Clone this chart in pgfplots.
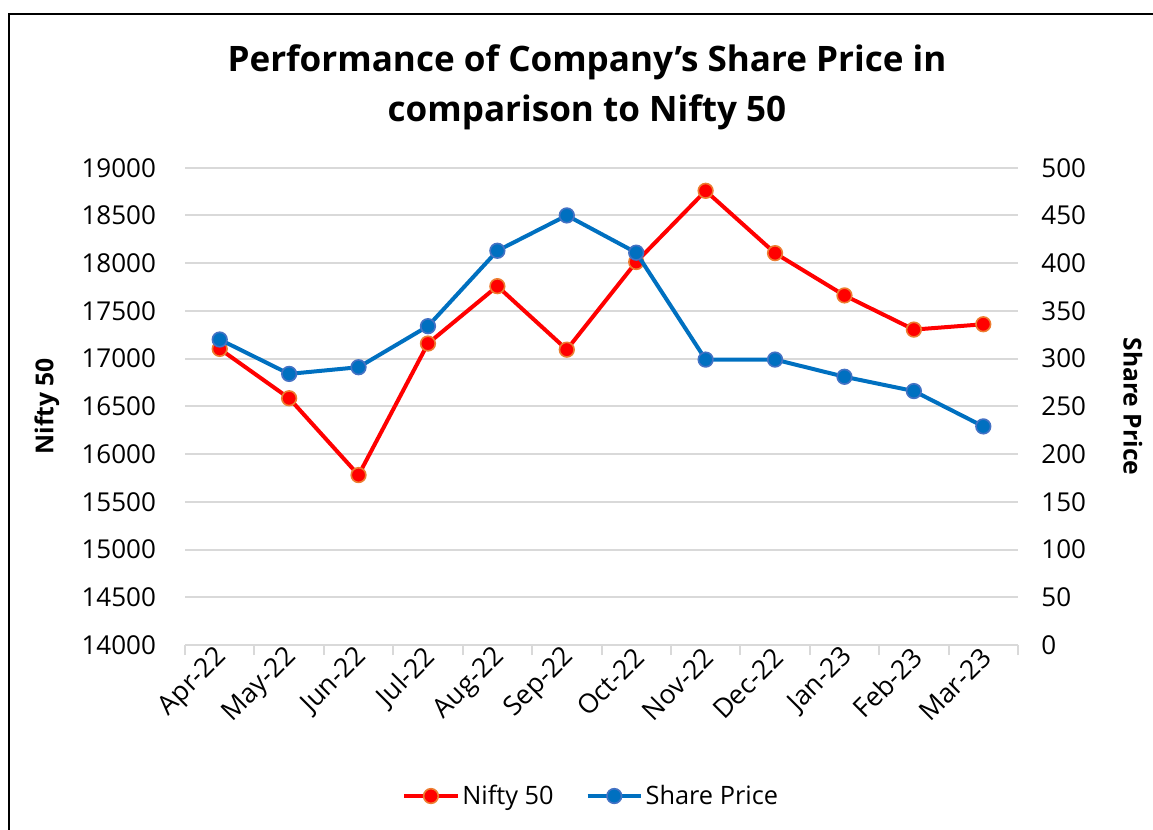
\documentclass[border=0pt]{standalone}
\usepackage{fontspec}
\setmainfont{Open Sans}
\usepackage{pgfplots}
\pgfplotsset{compat=1.18}
\definecolor{niftyred}{HTML}{FF0000}
\definecolor{niftyedge}{HTML}{ED7D31}
\definecolor{shareblue}{HTML}{0070C0}
\definecolor{shareedge}{HTML}{4472C4}
\definecolor{gridgray}{HTML}{D9D9D9}
\pgfplotstableread{
x nifty share
0 17102 320
1 16585 284
2 15780 291
3 17158 334
4 17759 413
5 17094 450
6 18012 411
7 18758 299
8 18105 299
9 17662 281
10 17304 266
11 17360 229
}\datatable
\begin{document}
\begin{tikzpicture}
\useasboundingbox (0,0) rectangle (1153*0.75pt,-830*0.75pt);
\draw[line width=1.6pt,black] (9*0.75pt,-835*0.75pt) -- (9*0.75pt,-14*0.75pt) -- (1160*0.75pt,-14*0.75pt);
\node[font=\fontsize{26.3}{37.5}\selectfont\bfseries,align=center] at (587*0.75pt,-87*0.75pt) {Performance of Company’s Share Price in\\comparison to Nifty 50};
\pgfplotsset{
  common/.style={
    scale only axis,
    width=833*0.75pt,
    height=477.3*0.75pt,
    at={(185*0.75pt,-645*0.75pt)},
    anchor=south west,
    xmin=-0.5, xmax=11.5,
    tick label style={font=\fontsize{19.5}{23}\selectfont},
    scaled y ticks=false,
    /pgf/number format/assume math mode=true,
    /pgf/number format/1000 sep={},
    /pgf/number format/fixed,
    ylabel style={font=\fontsize{18.5}{22}\selectfont\bfseries},
  }
}
\begin{axis}[common,
  ymin=14000, ymax=19000,
  ytick={14000,14500,...,19000},
  axis y line*=left,
  axis x line*=bottom,
  y axis line style={draw=none},
  x axis line style={gridgray, line width=1.5pt},
  ymajorgrids,
  major grid style={gridgray, line width=1.5pt},
  ytick style={draw=none},
  xtick={0,...,11},
  xticklabels={Apr-22,May-22,Jun-22,Jul-22,Aug-22,Sep-22,Oct-22,Nov-22,Dec-22,Jan-23,Feb-23,Mar-23},
  major x tick style={draw=none},
  minor xtick={-0.5,0.5,...,11.5},
  minor x tick style={gridgray, line width=1.5pt},
  minor tick length=7.5pt,
  tick align=outside,
  xticklabel style={rotate=45, anchor=east, xshift=4pt, yshift=-3pt, font=\fontsize{20}{24}\selectfont},
  yticklabel style={xshift=-14pt},
  ylabel={Nifty 50},
  ylabel style={at={(axis description cs:-0.1657,0.5)}, anchor=center},
]
\addplot[niftyred, line width=3pt, mark=*, mark size=5.5pt,
  mark options={fill=niftyred, draw=niftyedge, line width=1.2pt}] table[x=x,y=nifty]{\datatable};
\end{axis}
\begin{axis}[common,
  ymin=0, ymax=500,
  ytick={0,50,...,500},
  axis y line*=right,
  axis x line=none,
  y axis line style={draw=none},
  ytick style={draw=none},
  yticklabel style={xshift=14pt},
  ylabel={Share Price},
  ylabel style={rotate=180, at={(axis description cs:1.138,0.5)}, anchor=center},
  legend columns=2,
  legend style={draw=none, fill=none, at={(axis description cs:0.2605,-0.3164)}, anchor=west,
    inner xsep=0pt,
    font=\fontsize{19}{23}\selectfont, /tikz/every even column/.append style={column sep=22pt}},
  legend cell align=left,
  legend image code/.code={
    \draw[#1, mark repeat=2, mark phase=2] plot coordinates {(0pt,0pt) (20pt,0pt) (40pt,0pt)};
  },
]
\addlegendimage{niftyred, line width=3pt, mark=*, mark size=5.5pt,
  mark options={fill=niftyred, draw=niftyedge, line width=1.2pt}}
\addlegendentry{Nifty 50}
\addplot[shareblue, line width=3pt, mark=*, mark size=5.5pt,
  mark options={fill=shareblue, draw=shareedge, line width=1.2pt}] table[x=x,y=share]{\datatable};
\addlegendentry{Share Price}
\end{axis}
\end{tikzpicture}
\end{document}
